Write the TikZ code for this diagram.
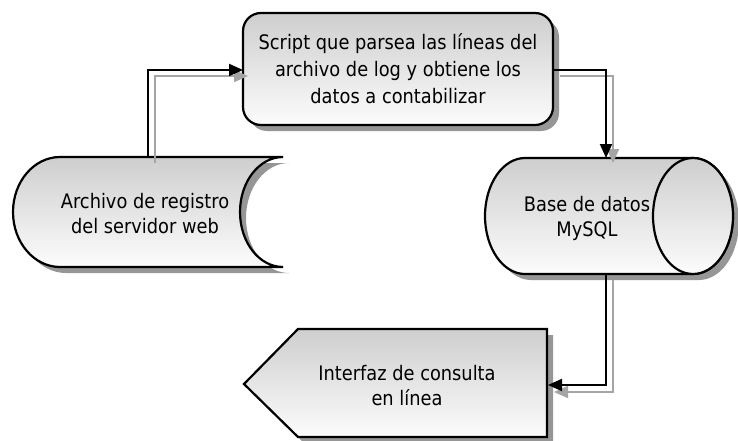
\documentclass[tikz,border=0pt]{standalone}
\usepackage{fontspec}
\setmainfont{DejaVu Sans}[FakeStretch=0.89]
\usetikzlibrary{arrows.meta}
\definecolor{shadowgray}{RGB}{150,150,150}
\definecolor{linegray}{RGB}{165,165,165}
\definecolor{topfill}{RGB}{206,206,206}
\definecolor{botfill}{RGB}{252,252,252}
\begin{document}
\begin{tikzpicture}[x=1pt,y=-1pt,
  shapebody/.style={draw=black, line width=2.2pt, top color=topfill, bottom color=botfill},
  shapeshadow/.style={fill=shadowgray},
  txt/.style={font=\fontsize{20}{25}\selectfont, align=center, inner sep=0pt, text=black},
  conn/.style={line width=2pt, -{Triangle[length=14pt,width=12pt]}},
  connblack/.style={conn, draw=black},
  conngray/.style={conn, draw=linegray},
]
\useasboundingbox[fill=white] (0,0) rectangle (738,441);

% shadows
\fill[shapeshadow, rounded corners=18pt] (249,19) rectangle (559,131);
\fill[shapeshadow] (66,163) -- (289,163) arc[start angle=270, end angle=90, x radius=43, y radius=55] -- (66,273) arc[start angle=90, end angle=270, x radius=47, y radius=55] -- cycle;
\fill[shapeshadow] (531,164) -- (699,164) arc[start angle=270, end angle=450, x radius=40, y radius=58] -- (531,280) arc[start angle=90, end angle=270, x radius=40, y radius=58] -- cycle;
\fill[shapeshadow] (304,335) -- (553,335) -- (553,443) -- (304,443) -- (250,390) -- cycle;

% shapes
\draw[shapebody, rounded corners=18pt] (243,13) rectangle (553,125);
\draw[shapebody] (60,157) -- (283,157) arc[start angle=270, end angle=90, x radius=43, y radius=55] -- (60,267) arc[start angle=90, end angle=270, x radius=47, y radius=55] -- cycle;
\draw[shapebody] (525,158) -- (693,158) arc[start angle=270, end angle=450, x radius=40, y radius=58] -- (525,274) arc[start angle=90, end angle=270, x radius=40, y radius=58] -- cycle;
\draw[shapebody] (693,216) ellipse[x radius=40, y radius=58];
\draw[shapebody] (298,329) -- (547,329) -- (547,437) -- (298,437) -- (244,384) -- cycle;

% texts
\node[txt, font=\fontsize{20}{27}\selectfont] (script) at (398,69) {Script que parsea las líneas del\\archivo de log y obtiene los\\datos a contabilizar};
\node[txt] (archivo) at (145,214) {Archivo de registro\\del servidor web};
\node[txt] (base) at (587,218) {Base de datos\\MySQL};
\node[txt] (interfaz) at (407,386) {Interfaz de consulta\\en línea};

% connector anchors
\coordinate (archtop) at (148,157);
\coordinate (scriptleft) at (243,70);
\coordinate (scriptright) at (553,70);
\coordinate (cyltop) at (606,158);
\coordinate (cylbot) at (606,274);
\coordinate (intright) at (548,385);

% connectors: gray copies
\draw[conngray] ([xshift=7pt,yshift=-6pt]archtop) |- ([xshift=5pt,yshift=-6pt]scriptleft);
\draw[conngray] ([xshift=7pt,yshift=-6pt]scriptright) -| ([xshift=7pt,yshift=-5pt]cyltop);
\draw[conngray] ([xshift=7pt,yshift=-6pt]cylbot) |- ([xshift=6pt,yshift=-7pt]intright);
% connectors: black
\draw[connblack] (archtop) |- (scriptleft);
\draw[connblack] (scriptright) -| (cyltop);
\draw[connblack] (cylbot) |- (intright);
\end{tikzpicture}
\end{document}
